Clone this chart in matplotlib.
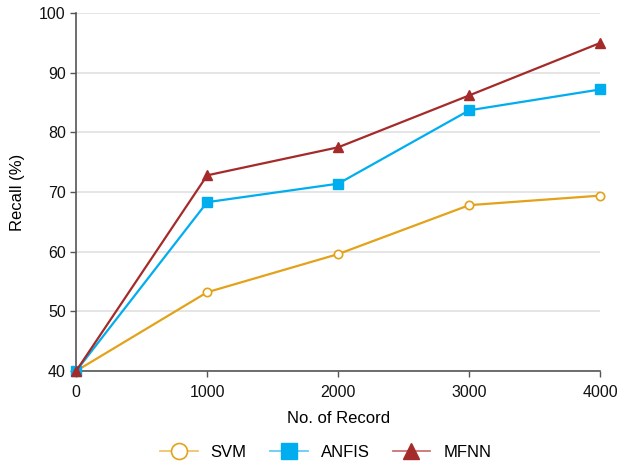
import matplotlib
matplotlib.use("Agg")
import matplotlib.pyplot as plt
from matplotlib.lines import Line2D

records = [0, 1000, 2000, 3000, 4000]
svm = [40, 53.2, 59.6, 67.8, 69.4]
anfis = [40, 68.3, 71.4, 83.7, 87.2]
mfnn = [40, 72.8, 77.5, 86.2, 95.0]
xticks = [0, 1000, 2000, 3000, 4000]
yticks = [40, 50, 60, 70, 80, 90, 100]
names = ['SVM', 'ANFIS', 'MFNN']

plt.rcParams['font.family'] = ['Liberation Sans', 'DejaVu Sans']

fig = plt.figure(figsize=(6.24, 4.67), dpi=100)
ax = fig.add_axes([0.122, 0.2056, 0.840, 0.7664])

c_svm = '#E3A21A'
c_anfis = '#00AEEF'
c_mfnn = '#A52A2A'
l_svm = '#EEC56E'
l_anfis = '#66CCF4'
l_mfnn = '#C87474'

ax.plot(records, svm, color=c_svm, lw=1.6, marker='o', ms=6, mfc='white', mec=c_svm, mew=1.2, zorder=3, clip_on=False)
ax.plot(records, anfis, color=c_anfis, lw=1.6, marker='s', ms=6.5, mfc=c_anfis, mec=c_anfis, zorder=4, clip_on=False)
ax.plot(records, mfnn, color=c_mfnn, lw=1.6, marker='^', ms=7, mfc=c_mfnn, mec=c_mfnn, zorder=5, clip_on=False)

ax.set_xlim(0, 4000)
ax.set_ylim(40, 100)
ax.set_xticks(xticks)
ax.set_yticks(yticks)
ax.yaxis.grid(True, color='#E0E0E0', lw=1.2)
ax.set_axisbelow(True)
for s in ['top', 'right']:
    ax.spines[s].set_visible(False)
for s in ['left', 'bottom']:
    ax.spines[s].set_color('#555555')
    ax.spines[s].set_linewidth(1.2)
ax.tick_params(axis='both', colors='#555555', labelcolor='#111111', labelsize=11.5, length=4, width=1)
ax.tick_params(axis='x', pad=6)

ax.set_xlabel('No. of Record', fontsize=12, labelpad=8)
ax.set_ylabel('Recall (%)', fontsize=12, labelpad=10)

handles = [
    (Line2D([], [], color=l_svm, lw=1.3),
     Line2D([], [], ls='none', marker='o', ms=11.5, mfc='white', mec=c_svm, mew=1.2)),
    (Line2D([], [], color=l_anfis, lw=1.3),
     Line2D([], [], ls='none', marker='s', ms=11.5, mfc=c_anfis, mec=c_anfis)),
    (Line2D([], [], color=l_mfnn, lw=1.3),
     Line2D([], [], ls='none', marker='^', ms=12, mfc=c_mfnn, mec=c_mfnn)),
]
fig.legend(handles, names, loc='center', bbox_to_anchor=(0.522, 0.032), ncol=3, frameon=False,
           fontsize=12, handlelength=2.25, columnspacing=1.4, handletextpad=0.78)

fig.savefig('out.png', dpi=100)
